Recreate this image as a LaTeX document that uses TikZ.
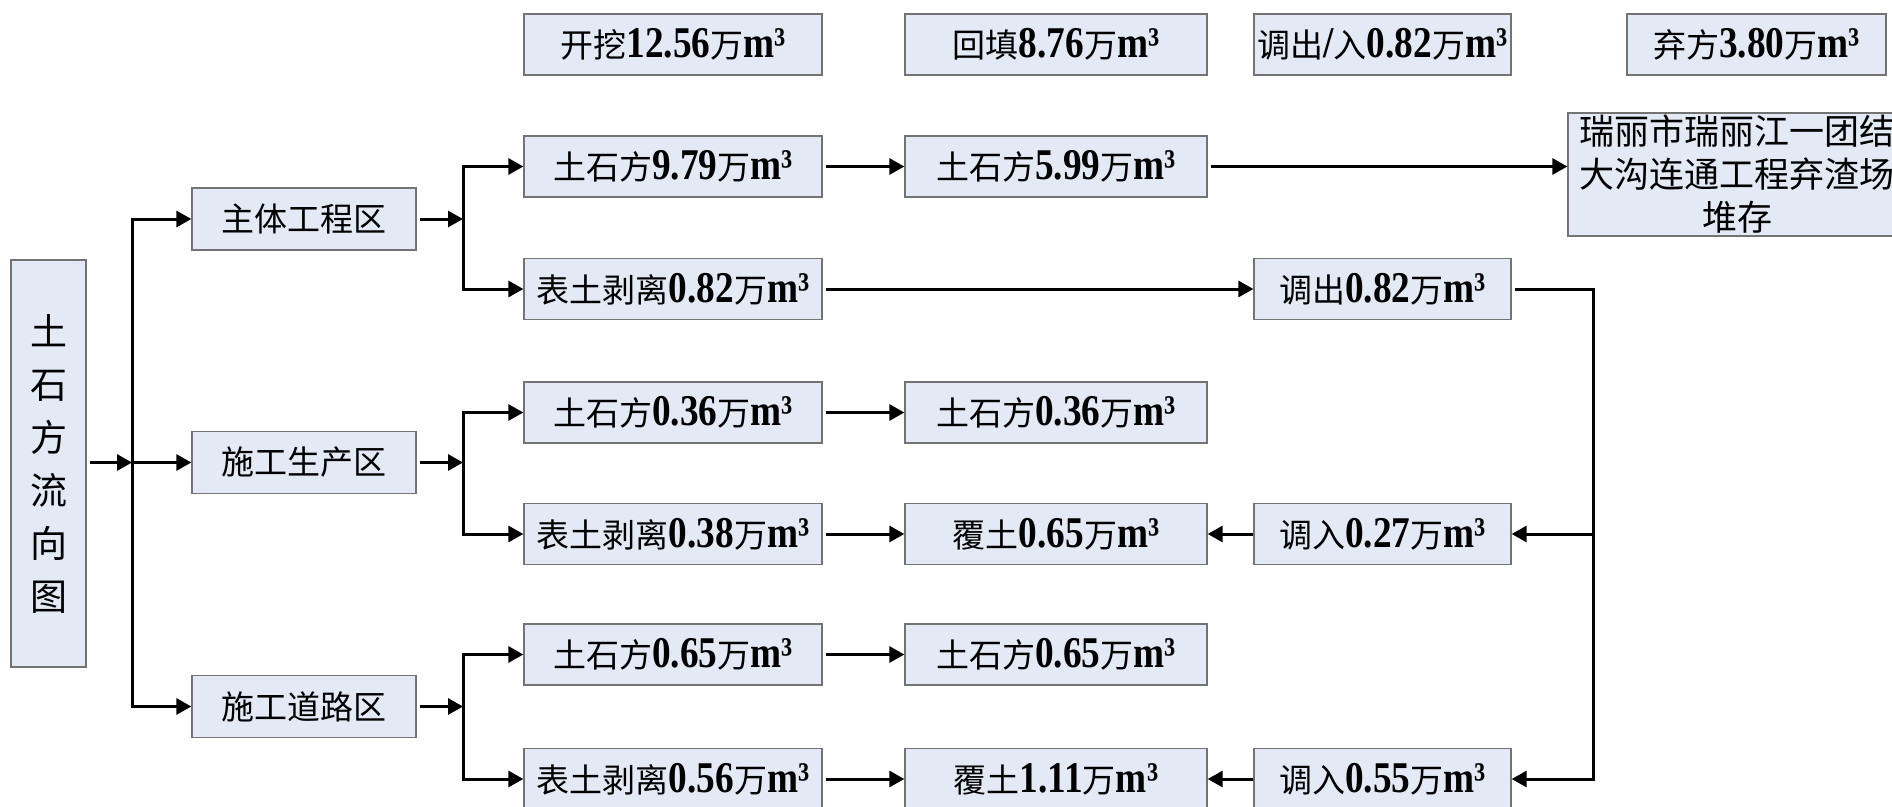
\documentclass[tikz,border=0pt]{standalone}
\usepackage{fontspec}
\usetikzlibrary{arrows.meta}
\newfontfamily\cjk{Noto Sans CJK SC}
\newfontfamily\numf{Liberation Serif Bold}[FakeStretch=0.85,Scale=1.33]
\newcommand\nn[1]{{\numf #1}}
\definecolor{boxfill}{RGB}{228,234,245}
\definecolor{boxline}{RGB}{115,115,115}
\begin{document}
\begin{tikzpicture}[x=1pt,y=-1pt,
  box/.style={draw=boxline,fill=boxfill,line width=1.3pt,inner sep=0pt,minimum height=61pt,
    font=\cjk\fontsize{33}{40}\selectfont},
  cA/.style={box,minimum width=298pt},
  cB/.style={box,minimum width=302pt},
  cC/.style={box,minimum width=257pt},
  zone/.style={box,minimum width=224pt,minimum height=62pt},
  arr/.style={line width=3pt,-{Triangle[length=15pt,width=16pt]}},
  gap/.style={shorten <=3pt},
  ln/.style={line width=3pt}]
\fill[white] (0,0) rectangle (1892,806);
\useasboundingbox (0,0) rectangle (1892,806);

% title
\node[box,minimum width=75pt,minimum height=407pt,align=center,
  font=\cjk\fontsize{37}{53}\selectfont] (title) at (48.5,463.5) {土\\石\\方\\流\\向\\图};

% zones
\node[zone] (z1) at (304,219) {主体工程区};
\node[zone] (z2) at (304,462.5) {施工生产区};
\node[zone] (z3) at (304,706.5) {施工道路区};

% header row
\node[cA] (k0) at (673,44.5) {开挖\nn{12.56}万\nn{m³}};
\node[cB] (h0) at (1056,44.5) {回填\nn{8.76}万\nn{m³}};
\node[cC] (d0) at (1382.5,44.5) {调出\nn{/}入\nn{0.82}万\nn{m³}};
\node[cC,minimum width=259pt] (q0) at (1756.5,44.5) {弃方\nn{3.80}万\nn{m³}};

% row 1
\node[cA] (a1) at (673,166.5) {土石方\nn{9.79}万\nn{m³}};
\node[cB] (b1) at (1056,166.5) {土石方\nn{5.99}万\nn{m³}};
\node[box,minimum width=338pt,minimum height=123pt,align=center,
  font=\cjk\fontsize{35}{43}\selectfont] (dump) at (1737,174.5)
  {瑞丽市瑞丽江一团结\\大沟连通工程弃渣场\\堆存};
% row 2
\node[cA] (a2) at (673,289) {表土剥离\nn{0.82}万\nn{m³}};
\node[cC] (d2) at (1382.5,289) {调出\nn{0.82}万\nn{m³}};
% row 3
\node[cA] (a3) at (673,412.5) {土石方\nn{0.36}万\nn{m³}};
\node[cB] (b3) at (1056,412.5) {土石方\nn{0.36}万\nn{m³}};
% row 4
\node[cA] (a4) at (673,534) {表土剥离\nn{0.38}万\nn{m³}};
\node[cB] (b4) at (1056,534) {覆土\nn{0.65}万\nn{m³}};
\node[cC] (d4) at (1382.5,534) {调入\nn{0.27}万\nn{m³}};
% row 5
\node[cA] (a5) at (673,654.5) {土石方\nn{0.65}万\nn{m³}};
\node[cB] (b5) at (1056,654.5) {土石方\nn{0.65}万\nn{m³}};
% row 6
\node[cA] (a6) at (673,779) {表土剥离\nn{0.56}万\nn{m³}};
\node[cB] (b6) at (1056,779) {覆土\nn{1.11}万\nn{m³}};
\node[cC] (d6) at (1382.5,779) {调入\nn{0.55}万\nn{m³}};

% junctions
\coordinate (J0) at (132,462.5);
\coordinate (B1) at (463,219);
\coordinate (B2) at (463,462.5);
\coordinate (B3) at (463,706.5);
\coordinate (R6) at (1593,779);
\coordinate (R4) at (1593,534);

% main tree
\draw[arr,gap] (title.east |- z2) -- (J0);
\draw[arr] (J0) |- (z1.west);
\draw[arr] (J0) |- (z3.west);
\draw[arr] (J0) -- (z2.west);

\draw[arr,gap] (z1.east) -- (B1);
\draw[arr] (B1) |- (a1.west);
\draw[arr] (B1) |- (a2.west);
\draw[arr,gap] (z2.east) -- (B2);
\draw[arr] (B2) |- (a3.west);
\draw[arr] (B2) |- (a4.west);
\draw[arr,gap] (z3.east) -- (B3);
\draw[arr] (B3) |- (a5.west);
\draw[arr] (B3) |- (a6.west);

% rows
\draw[arr,gap] (a1.east) -- (b1.west);
\draw[arr,gap] (b1.east) -- (b1.east -| dump.west);
\draw[arr,gap] (a2.east) -- (d2.west);
\draw[arr,gap] (a3.east) -- (b3.west);
\draw[arr,gap] (a4.east) -- (b4.west);
\draw[arr,gap] (a5.east) -- (b5.west);
\draw[arr,gap] (a6.east) -- (b6.west);
\draw[arr] (d4.west) -- (b4.east);
\draw[arr] (d6.west) -- (b6.east);

% transfer
\draw[arr,gap] (d2.east) -| (R6) -- (d6.east);
\draw[arr] (R4) -- (d4.east);
\end{tikzpicture}
\end{document}
